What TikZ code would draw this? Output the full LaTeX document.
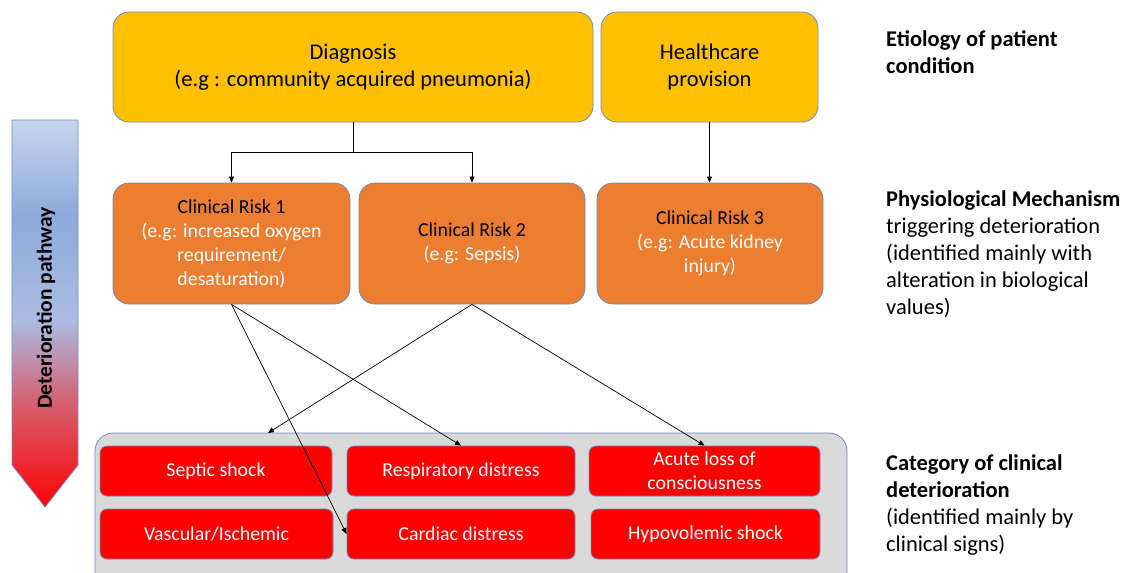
\documentclass[tikz,border=0pt]{standalone}
\usepackage{fontspec}
\setmainfont{Carlito}
\usetikzlibrary{arrows.meta}
\definecolor{yellowc}{HTML}{FFC000}
\definecolor{orangec}{HTML}{ED7D31}
\definecolor{redc}{HTML}{FF0000}
\definecolor{greyc}{HTML}{D9D9D9}
\definecolor{bord}{HTML}{6F8BC0}
\definecolor{shA}{HTML}{C8D6EE}
\definecolor{shB}{HTML}{8EAADB}
\definecolor{shC}{HTML}{AABCE2}
\definecolor{shD}{HTML}{D46272}
\begin{document}
\begin{tikzpicture}[x=1pt,y=-1pt,
  box/.style={rounded corners=16pt, draw=bord, line width=0.8pt, align=center, inner sep=0pt},
  etio/.style={box, fill=yellowc, font=\fontsize{22.5}{27}\selectfont},
  risk/.style={box, fill=orangec, text=white, font=\fontsize{19.8}{24}\selectfont},
  catg/.style={box, rounded corners=7pt, fill=redc, text=white, font=\fontsize{19.8}{24}\selectfont},
  conn/.style={draw=black, line width=0.7pt, -{Triangle[length=6pt,width=5pt]}},
  rtext/.style={align=left, anchor=north west, inner sep=0pt, font=\fontsize{22.5}{27}\selectfont}]
\useasboundingbox (0,0) rectangle (1138,573);
\clip (0,0) rectangle (1138,573);

% deterioration arrow
\begin{scope}
  \clip (12,120) -- (78,120) -- (78,465) -- (45,507) -- (12,465) -- cycle;
  \shade[top color=shA, bottom color=shB] (10,118) rectangle (80,216);
  \shade[top color=shB, bottom color=shC] (10,215) rectangle (80,321);
  \shade[top color=shC, bottom color=shD] (10,320) rectangle (80,401);
  \shade[top color=shD, bottom color=redc] (10,400) rectangle (80,510);
\end{scope}
\draw[draw=bord, line width=0.8pt] (12,120) -- (78,120) -- (78,465) -- (45,507) -- (12,465) -- cycle;
\node[rotate=90, font=\bfseries\fontsize{21.5}{26}\selectfont] (detlabel) at (46,308) {Deterioration pathway};

% top row
\node[etio, minimum width=480pt, minimum height=110pt] (diag) at (353,67) {Diagnosis\\(e.g : community acquired pneumonia)};
\node[etio, minimum width=217pt, minimum height=110pt] (health) at (709.5,67) {Healthcare\\provision};

% clinical risks
\node[risk, minimum width=237pt, minimum height=121pt] (cr1) at (231.5,243.5) {\textcolor{black}{Clinical Risk 1}\\(e.g: increased oxygen\\requirement/\\desaturation)};
\node[risk, minimum width=226pt, minimum height=121pt] (cr2) at (472,243.5) {\textcolor{black}{Clinical Risk 2}\\(e.g: Sepsis)};
\node[risk, minimum width=226pt, minimum height=121pt] (cr3) at (710,243.5) {\textcolor{black}{Clinical Risk 3}\\(e.g: Acute kidney\\injury)};

% category box
\node[box, rounded corners=18pt, fill=greyc, minimum width=752pt, minimum height=160pt] (catbox) at (471,513) {};
\node[catg, minimum width=232pt, minimum height=50pt] (septic) at (216,471) {Septic shock};
\node[catg, minimum width=228pt, minimum height=50pt] (resp) at (461,471) {Respiratory distress};
\node[catg, minimum width=231pt, minimum height=50pt] (acute) at (704.5,471) {Acute loss of\\consciousness};
\node[catg, minimum width=233pt, minimum height=50pt] (vasc) at (216.5,534) {Vascular/Ischemic};
\node[catg, minimum width=228pt, minimum height=50pt] (cardiac) at (461,534) {Cardiac distress};
\node[catg, minimum width=229pt, minimum height=50pt] (hypo) at (705.5,534) {Hypovolemic shock};

% connectors
\draw[line width=0.7pt] (diag.south) -- ++(0,30) coordinate (split);
\draw[conn] (split) -| (cr1.north);
\draw[conn] (split) -| (cr2.north);
\draw[conn] (health.south) -- (health.south |- cr3.north);
\coordinate (sepin) at (268,433);
\draw[conn] (cr1.south) -- (resp.north);
\draw[conn] (cr1.south) -- (cardiac.west);
\draw[conn] (cr2.south) -- (sepin);
\draw[conn] (cr2.south) -- (acute.north);

% right labels
\node[rtext] (lab1) at (886,30) {\textbf{Etiology of patient}\\\textbf{condition}};
\node[rtext] (lab2) at (886,191) {\textbf{Physiological Mechanism}\\triggering deterioration\\(identified mainly with\\alteration in biological\\values)};
\node[rtext] (lab3) at (886,455) {\textbf{Category of clinical}\\\textbf{deterioration}\\(identified mainly by\\clinical signs)};
\end{tikzpicture}
\end{document}
